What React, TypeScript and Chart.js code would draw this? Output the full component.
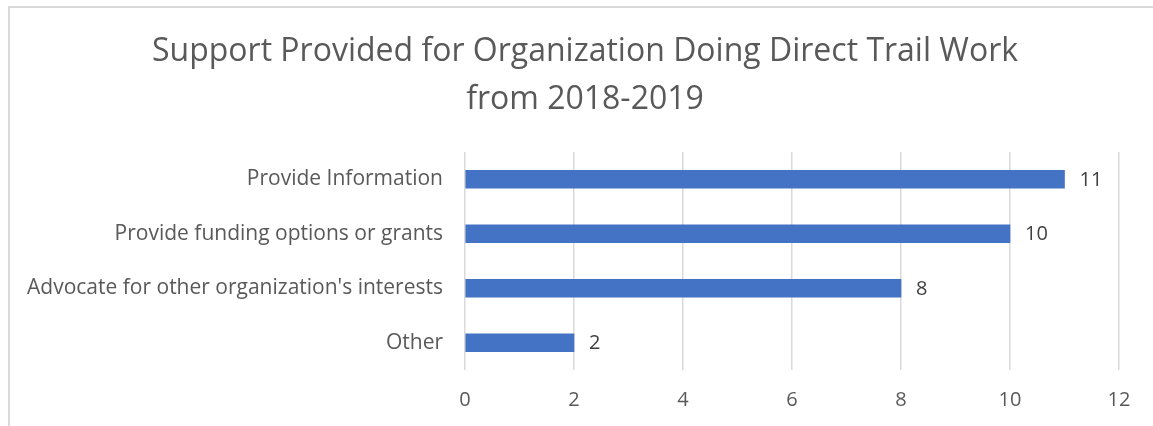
import React, { useEffect, useRef } from "react";
import { Chart, registerables } from "chart.js";

Chart.register(...registerables);

const titleLines = ["Support Provided for Organization Doing Direct Trail Work", "from 2018-2019"];
const categories = [
  "Provide Information",
  "Provide funding options or grants",
  "Advocate for other organization's interests",
  "Other",
];
const counts = [11, 10, 8, 2];
const xMin = 0;
const xMax = 12;
const xStep = 2;

const FONT = "'Open Sans', Lato, sans-serif";
const TEXT = "#595959";

const framePlugin = {
  id: "frame",
  beforeDraw(chart: any) {
    const ctx = chart.ctx;
    ctx.save();
    ctx.fillStyle = "#ffffff";
    ctx.fillRect(0, 0, chart.width, chart.height);
    ctx.strokeStyle = "#d9d9d9";
    ctx.lineWidth = 2;
    ctx.beginPath();
    ctx.moveTo(9, chart.height + 5);
    ctx.lineTo(9, 7);
    ctx.lineTo(chart.width + 5, 7);
    ctx.stroke();
    ctx.restore();
  },
  afterDraw(chart: any) {
    const ctx = chart.ctx;
    ctx.save();
    ctx.fillStyle = TEXT;
    ctx.font = `32px ${FONT}`;
    ctx.textAlign = "center";
    ctx.textBaseline = "middle";
    titleLines.forEach((line, i) => {
      ctx.fillText(line, 585, 52 + i * 48);
    });
    ctx.restore();
  },
};

const valueLabelPlugin = {
  id: "valueLabels",
  afterDatasetsDraw(chart: any) {
    const ctx = chart.ctx;
    const meta = chart.getDatasetMeta(0);
    const data = chart.data.datasets[0].data;
    ctx.save();
    ctx.fillStyle = "#404040";
    ctx.font = `20px ${FONT}`;
    ctx.textAlign = "left";
    ctx.textBaseline = "middle";
    meta.data.forEach((bar: any, i: number) => {
      ctx.fillText(String(data[i]), bar.x + 15, bar.y + 1);
    });
    ctx.restore();
  },
};

export default function App() {
  const ref = useRef<HTMLCanvasElement>(null);
  useEffect(() => {
    document.body.style.margin = "0";
    const chart = new Chart(ref.current!, {
      type: "bar",
      data: {
        labels: categories,
        datasets: [
          {
            data: counts,
            backgroundColor: "#4472C4",
            borderWidth: 0,
            barThickness: 18,
          },
        ],
      },
      plugins: [framePlugin, valueLabelPlugin],
      options: {
        indexAxis: "y",
        animation: false,
        responsive: false,
        layout: { padding: { left: 0, right: 34, top: 152, bottom: 0 } },
        plugins: {
          legend: { display: false },
          tooltip: { enabled: false },
          title: { display: false },
        },
        scales: {
          x: {
            min: xMin,
            max: xMax,
            ticks: {
              stepSize: xStep,
              color: TEXT,
              font: { family: FONT, size: 20 },
              padding: 18,
            },
            grid: { color: "#d9d9d9", lineWidth: 1.5, drawTicks: false },
            border: { display: false },
            afterFit(scale: any) {
              scale.height = 56;
            },
          },
          y: {
            ticks: {
              color: TEXT,
              font: { family: FONT, size: 21 },
              padding: 22,
            },
            grid: { display: false, drawTicks: false },
            border: { display: false },
            afterFit(scale: any) {
              scale.width = 465;
            },
          },
        },
      },
    });
    return () => chart.destroy();
  }, []);
  return (
    <div style={{ position: "fixed", left: 0, top: 0, width: 1153, height: 426, overflow: "hidden" }}>
      <canvas ref={ref} width={1153} height={426} style={{ display: "block" }} />
    </div>
  );
}
